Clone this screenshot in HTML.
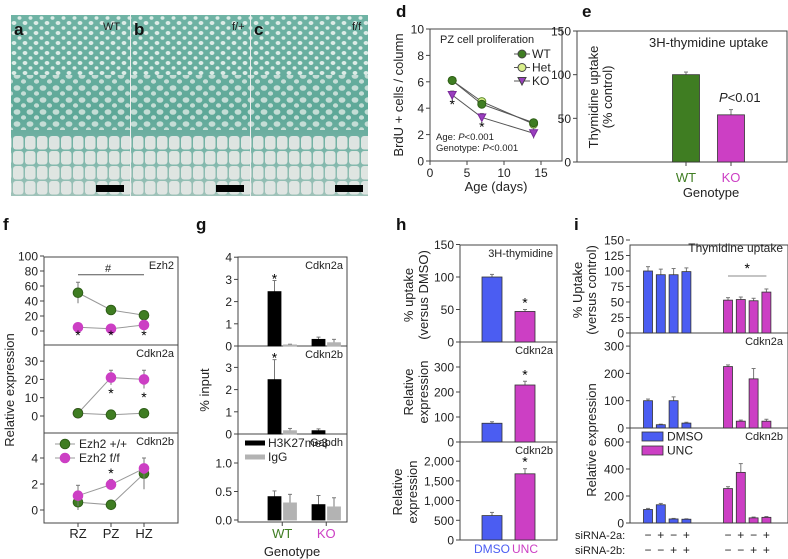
<!DOCTYPE html>
<html><head><meta charset="utf-8">
<style>
html,body{margin:0;padding:0;background:#fff;}
svg{display:block;font-family:"Liberation Sans",Arial,sans-serif;}
.pl{font-size:17px;font-weight:bold;fill:#111;}
.tk{font-size:12px;fill:#222;}
.sm{font-size:11px;fill:#222;}
.ti{font-size:13px;fill:#222;}
</style></head>
<body>
<svg id="chart" width="788" height="559" viewBox="0 0 788 559" xmlns="http://www.w3.org/2000/svg">
<defs>
<pattern id="dots" width="11" height="10" patternUnits="userSpaceOnUse">
<ellipse cx="3" cy="3" rx="2.4" ry="2" fill="#dcebe6"/><ellipse cx="8.5" cy="8" rx="2" ry="1.7" fill="#dcebe6"/>
</pattern>
<pattern id="dots2" width="13" height="12" patternUnits="userSpaceOnUse">
<ellipse cx="4" cy="4" rx="3.4" ry="2.8" fill="#d6e6e0"/><ellipse cx="10.5" cy="9.5" rx="2.6" ry="2.2" fill="#d6e6e0"/>
</pattern>
<pattern id="cells" width="12" height="15" patternUnits="userSpaceOnUse">
<rect x="1" y="1" width="10.5" height="13.5" rx="3" fill="#e3e7e4"/>
</pattern>
<linearGradient id="tealgrad" x1="0" y1="0" x2="0" y2="1">
<stop offset="0" stop-color="#6fb3a4"/><stop offset="0.55" stop-color="#5ea898"/><stop offset="0.75" stop-color="#79b5a8"/><stop offset="1" stop-color="#9fc2b9"/>
</linearGradient>
</defs>
<g id="histology">
<rect x="11" y="15" width="357" height="181" fill="url(#tealgrad)"/>
<rect x="11" y="15" width="357" height="60" fill="url(#dots)"/>
<rect x="11" y="75" width="357" height="55" fill="url(#dots2)" opacity="0.85"/>
<rect x="11" y="135" width="357" height="61" fill="url(#cells)" opacity="0.95"/>
<line x1="130.5" y1="15" x2="130.5" y2="196" stroke="#eee" stroke-width="1"/>
<line x1="250.5" y1="15" x2="250.5" y2="196" stroke="#eee" stroke-width="1"/>
<rect x="96" y="185" width="28" height="7" fill="#000"/>
<rect x="216" y="185" width="28" height="7" fill="#000"/>
<rect x="335" y="185" width="28" height="7" fill="#000"/>
<text class="pl" x="14" y="35">a</text>
<text class="pl" x="134" y="35">b</text>
<text class="pl" x="254" y="35">c</text>
<text class="sm" x="103" y="30">WT</text>
<text class="sm" x="232" y="30">f/+</text>
<text class="sm" x="352" y="30">f/f</text>
</g>

<text class="pl" x="396" y="17">d</text>
<text class="pl" x="582" y="17">e</text>
<text class="pl" x="3" y="230">f</text>
<text class="pl" x="196" y="230">g</text>
<text class="pl" x="396" y="230">h</text>
<text class="pl" x="574" y="230">i</text>

<text class="ti" transform="translate(403,95) rotate(-90)" text-anchor="middle">BrdU + cells / column</text>
<text class="ti" x="496" y="191" text-anchor="middle">Age (days)</text>
<text class="sm" x="440" y="43">PZ cell proliferation</text>
<text font-size="9.5" fill="#222" x="436" y="140">Age: <tspan font-style="italic">P</tspan>&lt;0.001</text>
<text font-size="9.5" fill="#222" x="436" y="151">Genotype: <tspan font-style="italic">P</tspan>&lt;0.001</text>

<text class="ti" transform="translate(598,97) rotate(-90)" text-anchor="middle">Thymidine uptake</text>
<text class="ti" transform="translate(612,97) rotate(-90)" text-anchor="middle">(% control)</text>
<text class="ti" x="649" y="47">3H-thymidine uptake</text>
<text class="ti" x="719" y="102"><tspan font-style="italic">P</tspan>&lt;0.01</text>
<text class="ti" x="711" y="197" text-anchor="middle">Genotype</text>

<text class="ti" transform="translate(14,390) rotate(-90)" text-anchor="middle">Relative expression</text>
<text class="ti" transform="translate(209,390) rotate(-90)" text-anchor="middle">% input</text>
<text class="ti" x="292" y="556" text-anchor="middle">Genotype</text>

<text class="ti" transform="translate(413,295) rotate(-90)" text-anchor="middle">% uptake</text>
<text class="ti" transform="translate(428,295) rotate(-90)" text-anchor="middle">(versus DMSO)</text>
<text class="ti" transform="translate(413,392) rotate(-90)" text-anchor="middle">Relative</text>
<text class="ti" transform="translate(428,392) rotate(-90)" text-anchor="middle">expression</text>
<text class="ti" transform="translate(402,492) rotate(-90)" text-anchor="middle">Relative</text>
<text class="ti" transform="translate(417,492) rotate(-90)" text-anchor="middle">expression</text>

<text class="ti" transform="translate(582,290) rotate(-90)" text-anchor="middle">% Uptake</text>
<text class="ti" transform="translate(596,290) rotate(-90)" text-anchor="middle">(versus control)</text>
<text class="ti" transform="translate(596,440) rotate(-90)" text-anchor="middle">Relative expression</text>
<text class="sm" x="575" y="539">siRNA-2a:</text>
<text class="sm" x="575" y="554">siRNA-2b:</text>
</svg>
<script>
// ---------- data ----------
const dAges=[3,7,14];
const dWT=[6.1,4.3,2.9];
const dHet=[6.1,4.5,2.8];
const dKO=[5.0,3.3,2.1];
const dKOerr=[0.3,0.3,0.4];
const dYTicks=[0,2,4,6,8,10];
const dXTicks=[0,5,10,15];

const eGenotypes=['WT','KO'];
const eValues=[100,54];
const eErr=[3,6];
const eYTicks=[0,50,100,150];

const fZones=['RZ','PZ','HZ'];
const fEzh2WT=[51,28,21];
const fEzh2WTerr=[14,4,4];
const fEzh2FF=[5,3,8];
const fCdkn2aWT=[1.5,0.7,1.5];
const fCdkn2aFF=[1.5,21,20];
const fCdkn2aFFerr=[0.5,4,5];
const fCdkn2bWT=[0.6,0.4,2.8];
const fCdkn2bWTerr=[0.6,0.1,1.2];
const fCdkn2bFF=[1.1,1.95,3.2];
const fCdkn2bFFerr=[0.8,0.4,0.8];
const fTicks1=[0,20,40,60,80,100];
const fTicks2=[0,10,20,30];
const fTicks3=[0,2,4];

const gSeries=['H3K27me3','IgG','H3K27me3','IgG'];
const gCdkn2a=[2.45,0.05,0.3,0.15];
const gCdkn2aErr=[0.5,0.03,0.1,0.15];
const gCdkn2b=[2.45,0.15,0.15,0.0];
const gCdkn2bErr=[0.9,0.1,0.08,0];
const gGapdh=[0.41,0.30,0.27,0.23];
const gGapdhErr=[0.1,0.15,0.16,0.16];
const gTicks12=[0,1,2,3,4];
const gTicks3=[0.0,0.5,1.0];

const hUptake=[100,47];
const hUptakeErr=[4,3];
const hCdkn2a=[75,228];
const hCdkn2aErr=[6,15];
const hCdkn2b=[620,1680];
const hCdkn2bErr=[80,130];
const hTicks1=[0,50,100,150];
const hTicks2=[0,100,200,300];
const hTicks3=[0,500,1000,1500,2000];
const hTicks3Lbl=['0','500','1,000','1,500','2,000'];

const iUptake=[100,94,94,99,53,54,52,66];
const iUptakeErr=[7,9,10,6,4,4,4,5];
const iCdkn2a=[100,12,100,18,225,25,180,25];
const iCdkn2aErr=[6,2,14,3,6,4,38,7];
const iCdkn2b=[100,135,30,28,255,375,38,42];
const iCdkn2bErr=[8,10,4,3,14,65,6,6];
const iTicks1=[0,25,50,75,100,125,150];
const iTicks2=[0,100,200,300];
const iTicks3=[0,200,400,600];
const iSi2a=['−','+','−','+','−','+','−','+'];
const iSi2b=['−','−','+','+','−','−','+','+'];

// ---------- helpers ----------
const NS='http://www.w3.org/2000/svg';
const svg=document.getElementById('chart');
const GREEN='#3f7d22', LGREEN='#d9ef8b', MAG='#cc3fc4', BLUE='#4b5df2', AX='#444';
function mk(tag,a){const e=document.createElementNS(NS,tag);for(const k in a)e.setAttribute(k,a[k]);svg.appendChild(e);return e;}
function lin(d0,d1,r0,r1){return v=>r0+(v-d0)*(r1-r0)/(d1-d0);}
function box(x0,y0,x1,y1,name){
  const r=mk('rect',{x:x0,y:y0,width:x1-x0,height:y1-y0,fill:'none',stroke:AX,'stroke-width':1});
  
  
}
function yAxis(ticks,labels,y,x0,name,cls){
  ticks.forEach((t,k)=>{
    const l=mk('line',{x1:x0-4,x2:x0,y1:y(t),y2:y(t),stroke:AX});
    
    
    const tx=mk('text',{x:x0-6,y:y(t)+4.5,'text-anchor':'end',class:cls||'tk'});
    tx.textContent=labels?labels[k]:String(t);
    
    
  });
}
function txt(x,y,s,name,attrs){
  const t=mk('text',Object.assign({x:x,y:y,class:'sm'},attrs||{}));
  t.textContent=s;
  
  
  return t;
}
function err(x,y0,y1,name,w){
  const l=mk('line',{x1:x,x2:x,y1:y0,y2:y1,stroke:'#777','stroke-width':1});
  
  
  const c=mk('line',{x1:x-(w||2),x2:x+(w||2),y1:y1,y2:y1,stroke:'#777','stroke-width':1});
  
  
}
function bar(cx,w,v,y,fill,name,e,stroke){
  if(e!==undefined&&e>0) err(cx,y(v),y(v+e),name+'-error');
  const r=mk('rect',{x:cx-w/2,y:Math.min(y(v),y(0)),width:w,height:Math.abs(y(0)-y(v)),fill:fill,stroke:stroke||'#333','stroke-width':0.8});
  
  
}
function star(x,yy,name){return txt(x,yy,'*',name,{'text-anchor':'middle','font-size':'14',class:''});}
function series(xs,ys,errs,xs_,y,color,fill,shape,name,lineColor){
  const p=mk('polyline',{points:xs.map((v,k)=>xs_(v)+','+y(ys[k])).join(' '),fill:'none',stroke:lineColor||'#666','stroke-width':1});
  
  
  xs.forEach((v,k)=>{
    if(errs) err(xs_(v),y(ys[k]-errs[k]),y(ys[k]+errs[k]),name+'-error');
    const cx=xs_(v),cy=y(ys[k]);
    let m;
    if(shape==='tri') m=mk('polygon',{points:(cx-4)+','+(cy-3.5)+' '+(cx+4)+','+(cy-3.5)+' '+cx+','+(cy+4),fill:fill,stroke:color});
    else m=mk('circle',{cx:cx,cy:cy,r:shape==='big'?4.8:4,fill:fill,stroke:color});
    
    
  });
}

// ---------- panel d ----------
{
  const x=lin(0,15,430,541), y=lin(0,10,161,29);
  box(430,29,562,161,'d-plot-frame');
  yAxis(dYTicks,null,y,430,'d-y');
  dXTicks.forEach(t=>{
    const l=mk('line',{x1:x(t),x2:x(t),y1:161,y2:165,stroke:AX});
    
    
    txt(x(t),177,String(t),'d-x-tick-label',{'text-anchor':'middle',class:'tk'});
  });
  series(dAges,dKO,dKOerr,x,y,'#7a2a9a','#9a3fbf','tri','d-ko','#555');
  series(dAges,dHet,null,x,y,'#5a8a2a',LGREEN,'circle','d-het','#555');
  series(dAges,dWT,null,x,y,'#2f5f18',GREEN,'circle','d-wt','#555');
  star(x(dAges[0]),y(dKO[0])+14,'d-star-3');
  star(x(dAges[1]),y(dKO[1])+14,'d-star-7');
  const leg=[['WT',GREEN,'circle'],['Het',LGREEN,'circle'],['KO','#9a3fbf','tri']];
  leg.forEach((L,k)=>{
    const yy=54+k*13.5;
    const l=mk('line',{x1:514,x2:530,y1:yy,y2:yy,stroke:'#555'});
    
    
    series([0],[0],null,()=>522,()=>yy,'#444',L[1],L[2],'d-legend-'+L[0].toLowerCase(),'#555');
    txt(532,yy+4,L[0],'d-legend-label',{class:'tk'});
  });
}
// ---------- panel e ----------
{
  const y=lin(0,150,162,31);
  box(577,31,787,162,'e-plot-frame');
  yAxis(eYTicks,null,y,577,'e-y');
  const cx=[686,731], cols=[GREEN,MAG];
  eGenotypes.forEach((g,k)=>{
    bar(cx[k],27,eValues[k],y,cols[k],'e-bar-'+g.toLowerCase(),eErr[k]);
    const l=mk('line',{x1:cx[k],x2:cx[k],y1:162,y2:166,stroke:AX});
    
    
    txt(cx[k],182,g,'e-x-label-'+g.toLowerCase(),{'text-anchor':'middle',class:'ti',fill:cols[k],style:'fill:'+cols[k]});
  });
}
// ---------- panel f ----------
{
  const x=k=>[78,111,144][k];
  const idx=[0,1,2];
  const y1=lin(0,100,331,256), y2=lin(0,10,416,397.7), y3=lin(0,2,510,484);
  box(44,257,178,345,'f-ezh2-frame');
  box(44,345,178,433,'f-cdkn2a-frame');
  box(44,433,178,523,'f-cdkn2b-frame');
  yAxis(fTicks1,null,y1,44,'f-ezh2-y');
  yAxis(fTicks2,null,y2,44,'f-cdkn2a-y');
  yAxis(fTicks3,null,y3,44,'f-cdkn2b-y');
  fZones.forEach((z,k)=>{
    const l=mk('line',{x1:x(k),x2:x(k),y1:523,y2:527,stroke:AX});
    
    
    txt(x(k),538,z,'f-x-label-'+z.toLowerCase(),{'text-anchor':'middle',class:'ti'});
  });
  series(idx,fEzh2WT,fEzh2WTerr,x,y1,'#2f5f18',GREEN,'big','f-ezh2-wt','#999');
  series(idx,fEzh2FF,null,x,y1,MAG,MAG,'big','f-ezh2-ff','#999');
  series(idx,fCdkn2aFF,fCdkn2aFFerr,x,y2,MAG,MAG,'big','f-cdkn2a-ff','#999');
  series(idx,fCdkn2aWT,null,x,y2,'#2f5f18',GREEN,'big','f-cdkn2a-wt','#999');
  series(idx,fCdkn2bWT,fCdkn2bWTerr,x,y3,'#2f5f18',GREEN,'big','f-cdkn2b-wt','#999');
  series(idx,fCdkn2bFF,fCdkn2bFFerr,x,y3,MAG,MAG,'big','f-cdkn2b-ff','#999');
  idx.forEach(k=>star(x(k),340,'f-ezh2-star'));
  star(x(1),398,'f-cdkn2a-star');star(x(2),402,'f-cdkn2a-star');
  star(x(1),478,'f-cdkn2b-star');
  const hl=mk('line',{x1:78,x2:144,y1:y1(75),y2:y1(75),stroke:'#555'});
  
  
  txt(108,y1(75)-3,'#','f-hash',{'text-anchor':'middle'});
  txt(174,269,'Ezh2','f-ezh2-label',{'text-anchor':'end'});
  txt(174,357,'Cdkn2a','f-cdkn2a-label',{'text-anchor':'end'});
  txt(174,445,'Cdkn2b','f-cdkn2b-label',{'text-anchor':'end'});
  [['Ezh2 +/+',GREEN,'#2f5f18'],['Ezh2 f/f',MAG,MAG]].forEach((L,k)=>{
    const yy=444+k*14;
    const l=mk('line',{x1:55,x2:75,y1:yy,y2:yy,stroke:'#999'});
    
    
    series([0],[0],null,()=>65,()=>yy,L[2],L[1],'big','f-legend-marker','#999');
    txt(79,yy+4,L[0],'f-legend-label',{class:'tk'});
  });
}
// ---------- panel g ----------
{
  const gx=i=>274.5+Math.floor(i/2)*44+(i%2)*15.5;
  const y1=lin(0,1,346,323.8), y2=lin(0,1,434,411.8), y3=lin(0,0.5,520,491.5);
  box(238,257,347,346,'g-cdkn2a-frame');
  box(238,346,347,434,'g-cdkn2b-frame');
  box(238,434,347,522,'g-gapdh-frame');
  yAxis(gTicks12,null,y1,238,'g-cdkn2a-y');
  yAxis(gTicks12.slice(0,4),null,y2,238,'g-cdkn2b-y');
  yAxis(gTicks3,['0.0','0.5','1.0'],y3,238,'g-gapdh-y');
  const gc=['#000','#b3b3b3'];
  [[gCdkn2a,gCdkn2aErr,y1,'cdkn2a'],[gCdkn2b,gCdkn2bErr,y2,'cdkn2b'],[gGapdh,gGapdhErr,y3,'gapdh']].forEach(S=>{
    S[0].forEach((v,i)=>bar(gx(i),13,v,S[2],gc[i%2],'g-'+S[3]+'-bar-'+gSeries[i].toLowerCase(),S[1][i],gc[i%2]));
  });
  star(gx(0),y1(gCdkn2a[0]+gCdkn2aErr[0])+3,'g-cdkn2a-star');
  star(gx(0),y2(gCdkn2b[0]+gCdkn2bErr[0])+3,'g-cdkn2b-star');
  txt(343,269,'Cdkn2a','g-cdkn2a-label',{'text-anchor':'end'});
  txt(343,358,'Cdkn2b','g-cdkn2b-label',{'text-anchor':'end'});
  txt(343,446,'Gapdh','g-gapdh-label',{'text-anchor':'end'});
  [['H3K27me3','#000'],['IgG','#b3b3b3']].forEach((L,k)=>{
    const yy=443+k*14;
    const r=mk('rect',{x:245,y:yy-2.5,width:20,height:5,fill:L[1]});
    
    
    txt(268,yy+4,L[0],'g-legend-label',{class:'tk'});
  });
  [['WT',GREEN],['KO',MAG]].forEach((L,k)=>{
    const cx=gx(2*k)+7.75;
    const l=mk('line',{x1:cx,x2:cx,y1:522,y2:526,stroke:AX});
    
    
    txt(cx,538,L[0],'g-x-label-'+L[0].toLowerCase(),{'text-anchor':'middle',class:'ti',style:'fill:'+L[1]});
  });
}
// ---------- panel h ----------
{
  const hx=[492,525], hc=[BLUE,MAG], hn=['dmso','unc'];
  const y1=lin(0,50,342,309.5), y2=lin(0,100,442,417), y3=lin(0,500,540,520.3);
  box(460,245,557,342,'h-uptake-frame');
  box(460,342,557,442,'h-cdkn2a-frame');
  box(460,442,557,540,'h-cdkn2b-frame');
  yAxis(hTicks1,null,y1,460,'h-uptake-y');
  yAxis(hTicks2,null,y2,460,'h-cdkn2a-y');
  yAxis(hTicks3,hTicks3Lbl,y3,460,'h-cdkn2b-y');
  [[hUptake,hUptakeErr,y1,'uptake'],[hCdkn2a,hCdkn2aErr,y2,'cdkn2a'],[hCdkn2b,hCdkn2bErr,y3,'cdkn2b']].forEach(S=>{
    S[0].forEach((v,i)=>bar(hx[i],20,v,S[2],hc[i],'h-'+S[3]+'-bar-'+hn[i],S[1][i]));
    star(hx[1],S[2](S[0][1]+S[1][1])-2,'h-'+S[3]+'-star');
  });
  txt(553,257,'3H-thymidine','h-uptake-label',{'text-anchor':'end'});
  txt(553,354,'Cdkn2a','h-cdkn2a-label',{'text-anchor':'end'});
  txt(553,454,'Cdkn2b','h-cdkn2b-label',{'text-anchor':'end'});
  txt(hx[0],553,'DMSO','h-x-label-dmso',{'text-anchor':'middle',class:'tk',style:'fill:'+BLUE});
  txt(hx[1],553,'UNC','h-x-label-unc',{'text-anchor':'middle',class:'tk',style:'fill:'+MAG});
}
// ---------- panel i ----------
{
  const ix=i=>648+(i%4)*12.8+Math.floor(i/4)*80;
  const y1=lin(0,25,333,317.5), y2=lin(0,100,428,400.7), y3=lin(0,200,523,496);
  box(630,245,788,333,'i-uptake-frame');
  box(630,333,788,428,'i-cdkn2a-frame');
  box(630,428,788,523,'i-cdkn2b-frame');
  yAxis(iTicks1,null,y1,630,'i-uptake-y');
  yAxis(iTicks2,null,y2,630,'i-cdkn2a-y');
  yAxis(iTicks3,null,y3,630,'i-cdkn2b-y');
  [[iUptake,iUptakeErr,y1,'uptake'],[iCdkn2a,iCdkn2aErr,y2,'cdkn2a'],[iCdkn2b,iCdkn2bErr,y3,'cdkn2b']].forEach(S=>{
    S[0].forEach((v,i)=>bar(ix(i),9,v,S[2],i<4?BLUE:MAG,'i-'+S[3]+'-bar-'+(i<4?'dmso':'unc')+'-'+(i%4+1),S[1][i]));
  });
  iSi2a.forEach((s,i)=>{
    txt(ix(i),539,s,'i-sirna-2a-sign',{'text-anchor':'middle',class:'tk'});
    txt(ix(i),554,iSi2b[i],'i-sirna-2b-sign',{'text-anchor':'middle',class:'tk'});
  });
  const sl=mk('line',{x1:ix(4),x2:ix(7),y1:276,y2:276,stroke:'#888'});
  
  
  star((ix(4)+ix(7))/2,273,'i-uptake-star');
  txt(783,252,'Thymidine uptake','i-uptake-label',{'text-anchor':'end',class:'tk'});
  txt(783,345,'Cdkn2a','i-cdkn2a-label',{'text-anchor':'end'});
  txt(783,440,'Cdkn2b','i-cdkn2b-label',{'text-anchor':'end'});
  [['DMSO',BLUE],['UNC',MAG]].forEach((L,k)=>{
    const yy=436+k*14;
    const r=mk('rect',{x:642,y:yy-4,width:21,height:9,fill:L[1],stroke:'#333','stroke-width':0.8});
    
    
    txt(667,yy+4.5,L[0],'i-legend-label',{class:'tk'});
  });
}
</script>
</body></html>
